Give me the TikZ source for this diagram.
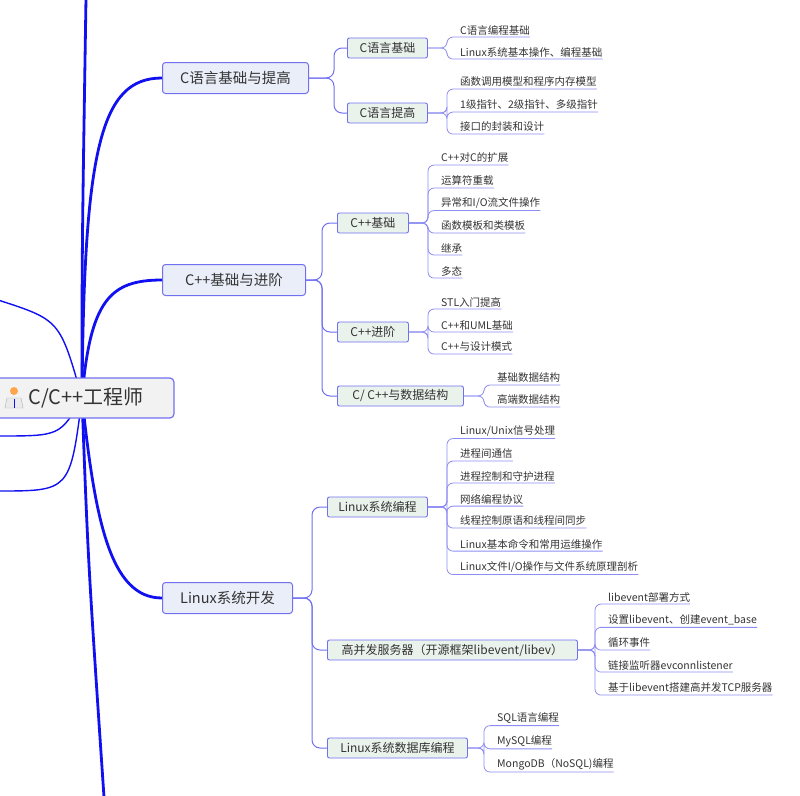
\documentclass[tikz,border=0pt]{standalone}
\usepackage{fontspec}
\setmainfont{Noto Sans CJK SC}
\definecolor{branch}{HTML}{1010F0}
\definecolor{twig}{HTML}{7070F0}
\definecolor{lvlone}{HTML}{E9EEF8}
\definecolor{lvltwo}{HTML}{EAF2EC}
\definecolor{ink}{HTML}{333333}
\begin{document}
\begin{tikzpicture}[x=1pt, y=-1pt, font=\color{ink},
  root/.style = {draw=twig, fill=black!5, rounded corners=4pt, line width=1.2pt, minimum height=40pt, inner xsep=30pt, font=\fontsize{20}{24}\selectfont\color{ink}, anchor=west},
  main/.style = {draw=twig, fill=lvlone, rounded corners=3pt, line width=1pt, minimum height=31pt, minimum width=130pt, inner xsep=6pt, font=\fontsize{14.5}{17}\selectfont\color{ink}, anchor=west},
  sub/.style = {draw=twig, fill=lvltwo, rounded corners=2pt, line width=0.9pt, minimum height=20pt, inner xsep=6pt, font=\fontsize{12}{14}\selectfont\color{ink}, anchor=west},
  leaf/.style = {inner xsep=0pt, inner ysep=2pt, anchor=west, font=\fontsize{10.5}{12}\selectfont\color{ink}},
  thick link/.style = {draw=branch, line width=2.8pt},
  link/.style = {draw=twig, line width=1pt, rounded corners=8pt},
  twig link/.style = {draw=twig!80, line width=0.8pt, rounded corners=6pt}]
\useasboundingbox (0,0) rectangle (800,795);

\coordinate (hub) at (82,398);
\coordinate (offtop) at (86,-2);
\coordinate (offbot) at (104,797);
\coordinate (offa) at (-2,300);
\coordinate (offb) at (-2,436);
\coordinate (offc) at (-2,491);

% main topics
\node[main, minimum width=146pt] (cbase) at (162,78) {C语言基础与提高};
\node[main, minimum width=143pt] (cpp) at (162,280) {C++基础与进阶};
\node[main, minimum width=130pt] (linux) at (162,598) {Linux系统开发};

\draw[thick link] (hub) .. controls (84,150) and (100,78) .. (cbase.west);
\draw[thick link] (hub) .. controls (90,300) and (110,280) .. (cpp.west);
\draw[thick link] (hub) .. controls (95,520) and (110,598) .. (linux.west);
\draw[thick link] (hub) .. controls (82,250) .. (offtop);
\draw[thick link] (hub) .. controls (88,560) .. (offbot);
\draw[draw=branch, line width=1.4pt] (hub) .. controls (60,320) .. (offa);
\draw[draw=branch, line width=1.4pt] (hub) .. controls (60,436) .. (offb);
\draw[draw=branch, line width=1.4pt] (hub) .. controls (70,491) .. (offc);

% root
\node[root] (root) at (-12,398) {\hspace{10pt}C/C++工程师};
% little person icon
\fill[orange!70] (14,391) circle (4pt);
\fill[black!8, draw=black!30] (5,408) -- (7,398) -- (21,398) -- (23,408) -- cycle;
\draw[branch, line width=1pt] (14,399) -- (14,408);

% sub topics
\node[sub, minimum width=80pt] (cb) at (347,48) {C语言基础};
\node[sub, minimum width=80pt] (cu) at (347,113) {C语言提高};
\node[sub, minimum width=71pt] (pb) at (337,223) {C++基础};
\node[sub, minimum width=71pt] (pa) at (337,332) {C++进阶};
\node[sub, minimum width=126pt] (pd) at (337,396) {C/ C++与数据结构};
\node[sub, minimum width=100pt] (ls) at (327,507) {Linux系统编程};
\node[sub, minimum width=250pt] (lh) at (327,650) {高并发服务器（开源框架libevent/libev）};
\node[sub, minimum width=140pt] (ld) at (327,748) {Linux系统数据库编程};

\foreach \s in {cb, cu} \draw[link] (cbase.east) -- (334,78) |- (\s.west);
\foreach \s in {pb, pa, pd} \draw[link] (cpp.east) -- (322,280) |- (\s.west);
\foreach \s in {ls, lh, ld} \draw[link] (linux.east) -- (312,598) |- (\s.west);

% leaves
\foreach \n/\y/\t/\p/\x in {
  a1/30/{C语言编程基础}/cb/460,
  a2/52/{Linux系统基本操作、编程基础}/cb/460,
  b1/82/{函数调用模型和程序内存模型}/cu/460,
  b2/105/{1级指针、2级指针、多级指针}/cu/460,
  b3/127/{接口的封装和设计}/cu/460,
  c1/158/{C++对C的扩展}/pb/441,
  c2/181/{运算符重载}/pb/441,
  c3/203/{异常和I/O流文件操作}/pb/441,
  c4/226/{函数模板和类模板}/pb/441,
  c5/248/{继承}/pb/441,
  c6/271/{多态}/pb/441,
  d1/302/{STL入门提高}/pa/441,
  d2/325/{C++和UML基础}/pa/441,
  d3/347/{C++与设计模式}/pa/441,
  e1/378/{基础数据结构}/pd/497,
  e2/400/{高端数据结构}/pd/497,
  f1/431/{Linux/Unix信号处理}/ls/460,
  f2/454/{进程间通信}/ls/460,
  f3/476/{进程控制和守护进程}/ls/460,
  f4/499/{网络编程协议}/ls/460,
  f5/521/{线程控制原语和线程间同步}/ls/460,
  f6/544/{Linux基本命令和常用运维操作}/ls/460,
  f7/567/{Linux文件I/O操作与文件系统原理剖析}/ls/460,
  g1/597/{libevent部署方式}/lh/608,
  g2/620/{设置libevent、创建event\_base}/lh/608,
  g3/643/{循环事件}/lh/608,
  g4/665/{链接监听器evconnlistener}/lh/608,
  g5/688/{基于libevent搭建高并发TCP服务器}/lh/608,
  h1/718/{SQL语言编程}/ld/497,
  h2/741/{MySQL编程}/ld/497,
  h3/764/{MongoDB（NoSQL)编程}/ld/497} {
  \node[leaf] (\n) at (\x,\y) {\t};
  \draw[twig link] (\p.east) -| ([xshift=-13pt]\n.south west) -- (\n.south west) -- (\n.south east);
}
\end{tikzpicture}
\end{document}
